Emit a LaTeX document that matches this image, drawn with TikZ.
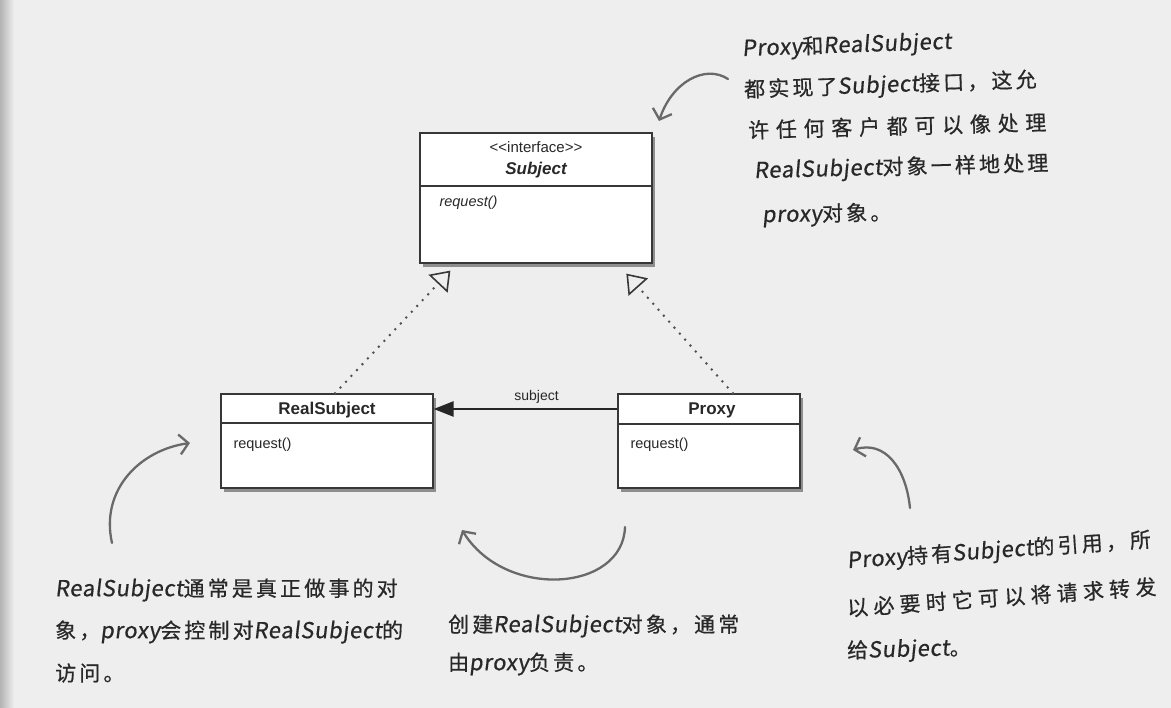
\documentclass[tikz,border=0pt]{standalone}
\usepackage{fontspec}
\setmainfont{Liberation Sans}
\newfontfamily\hand[LetterSpace=15, FakeBold=0.6]{Noto Sans CJK SC}
\newfontfamily\handlat[FakeSlant=0.12, LetterSpace=3, FakeBold=0.6]{Noto Sans CJK SC}
\newcommand\lw[1]{{\handlat\fontsize{22}{24}\selectfont #1}}
\usetikzlibrary{arrows.meta,shadows,calc}
\definecolor{paper}{RGB}{238,238,238}
\definecolor{ink}{RGB}{40,40,40}
\definecolor{pen}{RGB}{105,105,105}
\definecolor{boxline}{RGB}{55,55,55}
\definecolor{dotc}{RGB}{80,80,80}
\tikzset{
  umlbox/.style={draw=boxline, line width=1.3pt, fill=white, inner sep=0pt,
    drop shadow={shadow xshift=3pt, shadow yshift=-4pt, opacity=0.4, fill=black}},
  umltitle/.style={font=\bfseries\fontsize{17}{20}\selectfont, text=ink},
  umlop/.style={font=\fontsize{14.5}{17}\selectfont, text=ink, anchor=west},
  divider/.style={draw=boxline, line width=1.1pt},
  realize/.style={draw=dotc, line width=2.8pt, dash pattern=on 0pt off 8pt, line cap=round,
    -{Triangle[open, length=18pt, width=26pt, line width=1.6pt, color=boxline]}},
  assoc/.style={draw=black!85, line width=2.6pt, -{Triangle[length=20pt, width=15pt]}},
  penarrow/.style={draw=pen, line width=2.3pt, line cap=round, -{Straight Barb[length=9pt, width=20pt]}},
  note/.style={font=\hand\fontsize{21}{24}\selectfont, text=ink, anchor=west, inner sep=0pt},
}
\begin{document}
\begin{tikzpicture}[x=1pt,y=-1pt]
\fill[paper] (0,0) rectangle (1171,708);
\useasboundingbox (0,0) rectangle (1171,708);
\shade[left color=black!30, right color=paper] (0,0) rectangle (14,708);

% Subject interface
\node[umlbox, minimum width=232pt, minimum height=130pt] (subj) at (536,198) {};
\node[font=\fontsize{15}{18}\selectfont, text=ink] (subjster) at (536,147) {<{}<interface>{}>};
\node[font=\bfseries\itshape\fontsize{17}{20}\selectfont, text=ink] (subjname) at (536,170) {Subject};
\draw[divider] (subj.west |- 0,186) -- (subj.east |- 0,186);
\node[umlop, font=\itshape\fontsize{14.5}{17}\selectfont] (subjop) at (436,203) {request()};

% RealSubject
\node[umlbox, minimum width=212pt, minimum height=94pt] (rs) at (327,441) {};
\node[umltitle] (rsname) at (327,410) {RealSubject};
\draw[divider] (rs.west |- 0,423) -- (rs.east |- 0,423);
\node[umlop] (rsop) at (230,445) {request()};

% Proxy
\node[umlbox, minimum width=182pt, minimum height=94pt] (px) at (709,441) {};
\node[umltitle] (pxname) at (712,410) {Proxy};
\draw[divider] (px.west |- 0,424) -- (px.east |- 0,424);
\node[umlop] (pxop) at (627,445) {request()};

% association
\draw[assoc] (px.west |- 0,409) -- (rs.east |- 0,409)
  node[pos=0.44, yshift=12pt, font=\fontsize{14}{17}\selectfont, text=ink] (sublbl) {subject};

% realizations
\coordinate (sl) at ($(subj.south west)+(31,7)$);
\coordinate (sr) at ($(subj.south west)+(207,10)$);
\draw[realize] (rs.north -| 335,0) -- (sl);
\draw[realize] (px.north -| 733,0) -- (sr);

% hand-drawn arrows
\coordinate (a1s) at (728,79);  \coordinate (a1e) at (659,121);
\coordinate (a2s) at (112,543); \coordinate (a2e) at (190,443);
\coordinate (a3s) at (625,527); \coordinate (a3e) at (462,530);
\coordinate (a4s) at (910,508); \coordinate (a4e) at (853,450);
\draw[penarrow] (a1s) .. controls (705,64) and (672,82) .. (a1e);
\draw[penarrow] (a2s) .. controls (100,490) and (140,450) .. (a2e);
\draw[penarrow] (a3s) .. controls (623,592) and (505,600) .. (a3e);
\draw[penarrow] (a4s) .. controls (906,468) and (885,440) .. (a4e);

% notes
\node[note, rotate=2] (t1) at (742,50) {\lw{Proxy}和\lw{RealSubject}};
\node[note, rotate=2] (t2) at (744,91) {都实现了\lw{Subject}接口，这允};
\node[note, rotate=1.5] (t3) at (748,130) {\addfontfeatures{LetterSpace=32}许任何客户都可以像处理};
\node[note, rotate=1.5] (t4) at (754,172) {\lw{RealSubject}对象一样地处理};
\node[note, rotate=1] (t5) at (762,216) {\lw{proxy}对象。};

\node[note] (l1) at (55,590) {\lw{RealSubject}通常是真正做事的对};
\node[note] (l2) at (55,632) {象，\lw{proxy}会控制对\lw{RealSubject}的};
\node[note] (l3) at (55,673) {访问。};

\node[note] (m1) at (448,626) {创建\lw{RealSubject}对象，通常};
\node[note] (m2) at (448,664) {由\lw{proxy}负责。};

\node[note, rotate=4] (r1) at (847,562) {\lw{Proxy}持有\lw{Subject}的引用，所};
\node[note, rotate=4] (r2) at (847,608) {\addfontfeatures{LetterSpace=25}以必要时它可以将请求转发};
\node[note, rotate=1.5] (r3) at (847,652) {给\lw{Subject}。};
\end{tikzpicture}
\end{document}
